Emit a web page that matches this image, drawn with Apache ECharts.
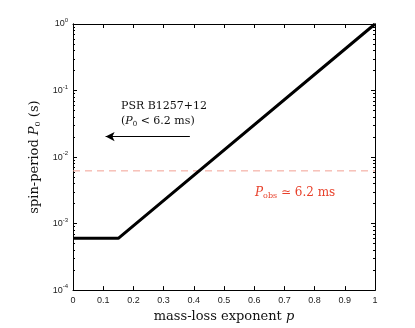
<!DOCTYPE html>
<html>
<head>
<meta charset="utf-8">
<script src="https://cdn.jsdelivr.net/npm/echarts@6/dist/echarts.min.js"></script>
<style>
html,body{margin:0;padding:0;background:#fff;}
#main{width:415px;height:328px;}
</style>
</head>
<body>
<div id="main"></div>
<script>
// 数据
var pValues=[0,0.15,1];
var periodValues=[6e-4,6e-4,1];
var pObs=6.2e-3;
var arrowFrom=[0.387,0.0203];
var arrowTo=[0.108,0.0203];
var xTickLabels=['0','0.1','0.2','0.3','0.4','0.5','0.6','0.7','0.8','0.9','1'];
var yTickValues=[1e-4,1e-3,1e-2,1e-1,1];
var yTickExps=['-4','-3','-2','-1','0'];

var minorTicks=[];
for(var d=0;d<4;d++){
    for(var k=2;k<10;k++){
        minorTicks.push(k*Math.pow(10,d-4));
    }
}

var serif='"DejaVu Serif","Liberation Serif",serif';
var sans='"Liberation Sans","DejaVu Sans",sans-serif';

var myChart=echarts.init(document.getElementById('main'));

var lineData=[];
for(var i=0;i<pValues.length;i++){
    lineData.push([pValues[i],periodValues[i]]);
}
var obsData=[[0,pObs],[1,pObs]];

function yLabel(v){
    var idx=-1;
    for(var i=0;i<yTickValues.length;i++){
        if(Math.abs(Math.log10(v)-Math.log10(yTickValues[i]))<1e-6) idx=i;
    }
    if(idx<0) return '';
    return '{b|10}{s|'+yTickExps[idx]+'}';
}

var baseY={
    type:'log',
    min:1e-4,
    max:1,
    logBase:10,
    splitLine:{show:false},
    axisLine:{show:true,lineStyle:{color:'#000',width:1}}
};

var option={
    backgroundColor:'#fff',
    animation:false,
    grid:{left:73,right:40,top:24,bottom:37},
    xAxis:[
        {
            type:'value',min:0,max:1,interval:0.1,
            position:'bottom',
            axisLine:{show:true,onZero:false,lineStyle:{color:'#000',width:1}},
            axisTick:{show:true,inside:true,length:4,lineStyle:{color:'#000'}},
            splitLine:{show:false},
            axisLabel:{
                color:'#222',fontFamily:sans,fontSize:9,margin:6,
                formatter:function(v){
                    var i=Math.round(v*10);
                    return xTickLabels[i]!==undefined?xTickLabels[i]:'';
                }
            },
            name:'{t|mass-loss exponent }{i|p}',
            nameLocation:'middle',
            nameGap:17,
            nameTextStyle:{
                rich:{
                    t:{fontFamily:serif,fontSize:13,color:'#111'},
                    i:{fontFamily:serif,fontSize:13,fontStyle:'italic',color:'#111'}
                }
            }
        },
        {
            type:'value',min:0,max:1,interval:0.1,
            position:'top',
            axisLine:{show:true,onZero:false,lineStyle:{color:'#000',width:1}},
            axisTick:{show:true,inside:true,length:4,lineStyle:{color:'#000'}},
            axisLabel:{show:false},
            splitLine:{show:false}
        }
    ],
    yAxis:[
        echarts.util.merge({
            position:'left',
            axisTick:{show:true,inside:true,length:4,lineStyle:{color:'#000'},customValues:yTickValues},
            axisLabel:{
                customValues:yTickValues,
                margin:5,
                formatter:yLabel,
                rich:{
                    b:{fontFamily:sans,fontSize:9,color:'#222'},
                    s:{fontFamily:sans,fontSize:6,color:'#222',padding:[0,0,7,0]}
                }
            },
            name:'{t|spin-period }{i|P}{u|0}{t| (s)}',
            nameLocation:'middle',
            nameGap:30,
            nameRotate:90,
            nameTextStyle:{
                rich:{
                    t:{fontFamily:serif,fontSize:13,color:'#111'},
                    i:{fontFamily:serif,fontSize:13,fontStyle:'italic',color:'#111'},
                    u:{fontFamily:serif,fontSize:8,color:'#111',padding:[7,0,0,0]}
                }
            }
        },baseY,true),
        echarts.util.merge({
            position:'left',
            axisTick:{show:true,inside:true,length:2,lineStyle:{color:'#000'},customValues:minorTicks},
            axisLabel:{show:false}
        },baseY,true),
        echarts.util.merge({
            position:'right',
            axisTick:{show:true,inside:true,length:4,lineStyle:{color:'#000'},customValues:yTickValues},
            axisLabel:{show:false}
        },baseY,true),
        echarts.util.merge({
            position:'right',
            axisTick:{show:true,inside:true,length:2,lineStyle:{color:'#000'},customValues:minorTicks},
            axisLabel:{show:false}
        },baseY,true)
    ],
    series:[
        {
            type:'line',
            xAxisIndex:0,
            yAxisIndex:0,
            data:obsData,
            showSymbol:false,
            symbol:'none',
            silent:true,
            lineStyle:{color:'#f2a093',width:1,type:[7,5]},
            z:2
        },
        {
            type:'line',
            xAxisIndex:0,
            yAxisIndex:0,
            data:lineData,
            showSymbol:false,
            symbol:'none',
            lineStyle:{color:'#000',width:3},
            z:5
        },
        {
            type:'line',
            xAxisIndex:0,
            yAxisIndex:0,
            data:[],
            markLine:{
                silent:true,
                symbol:['none','arrow'],
                symbolSize:[7,9],
                label:{show:false},
                lineStyle:{color:'#000',width:1,type:'solid'},
                data:[
                    [{coord:arrowFrom},{coord:arrowTo}]
                ]
            }
        }
    ],
    graphic:[
        {
            type:'text',left:121,top:101,
            style:{text:'PSR B1257+12',font:'11px '+serif,fill:'#111'}
        },
        {
            type:'text',left:121,top:116,
            style:{
                text:'{t|(}{i|P}{u|0}{t| < 6.2 ms)}',
                rich:{
                    t:{fontFamily:serif,fontSize:11,fill:'#111'},
                    i:{fontFamily:serif,fontSize:11,fontStyle:'italic',fill:'#111'},
                    u:{fontFamily:serif,fontSize:7,fill:'#111',padding:[6,0,0,0]}
                }
            }
        },
        {
            type:'text',left:255,top:187,
            style:{
                text:'{i|P}{u|obs}{t| \u2243 6.2 ms}',
                rich:{
                    t:{fontFamily:serif,fontSize:12,fill:'#e8402a'},
                    i:{fontFamily:serif,fontSize:12,fontStyle:'italic',fill:'#e8402a'},
                    u:{fontFamily:serif,fontSize:8,fill:'#e8402a',padding:[6,0,0,0]}
                }
            }
        }
    ]
};

myChart.setOption(option);
</script>
</body>
</html>
